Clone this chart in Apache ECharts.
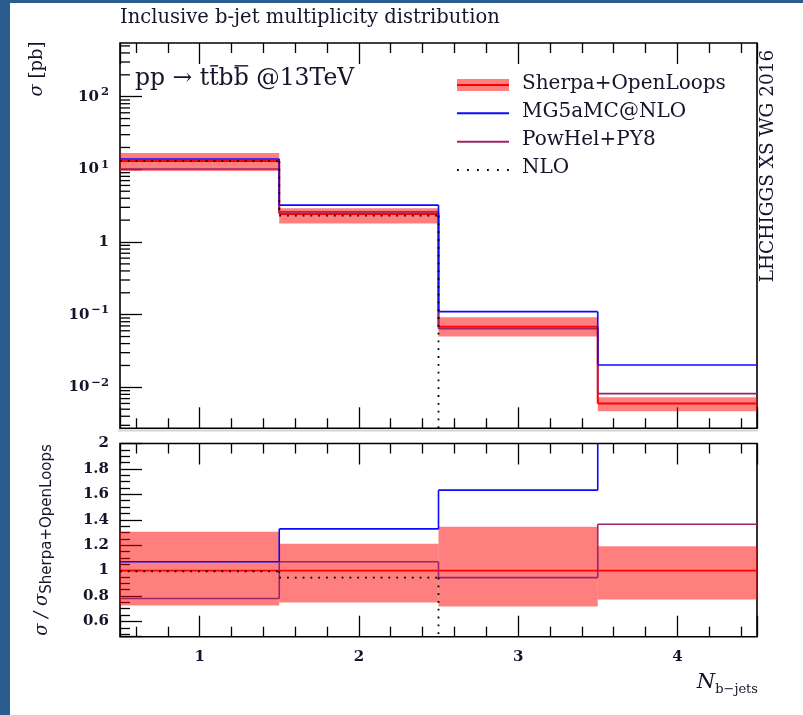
<!DOCTYPE html>
<html><head><meta charset="utf-8">
<script src="https://cdn.jsdelivr.net/npm/echarts@6/dist/echarts.min.js"></script>
<style>html,body{margin:0;padding:0;background:#fff}#c{width:803px;height:715px}</style>
</head><body><div id="c"></div>
<script>
// ---- data ----
const binEdges = [0.5, 1.5, 2.5, 3.5, 4.5];
const xTickValues = [1, 2, 3, 4];
const xTickLabels = ['1', '2', '3', '4'];
// upper panel: cross sections [pb]
const sherpa   = [13.0, 2.43, 0.068, 0.0060];
const sherpaLo = [9.5, 1.80, 0.050, 0.0047];
const sherpaHi = [16.8, 2.92, 0.092, 0.0073];
const mg5      = [13.9, 3.22, 0.110, 0.0203];
const powhel   = [10.1, 2.60, 0.064, 0.0082];
const nlo      = [13.0, 2.30, 0, 0];
// lower panel: ratio to Sherpa+OpenLoops
const ratioSherpa = [1, 1, 1, 1];
const ratioLo     = [0.725, 0.750, 0.718, 0.773];
const ratioHi     = [1.305, 1.212, 1.345, 1.192];
const ratioMg5    = [1.07, 1.328, 1.633, 3.38];
const ratioPowhel = [0.78, 1.07, 0.945, 1.365];
const ratioNlo    = [0.995, 0.945, 0, 0];
// tick labels
const logTickValues = [0.01, 0.1, 1, 10, 100];
const logTickLabels = ['10{sup|\u22122}', '10{sup|\u22121}', '1', '10{sup|1}', '10{sup|2}'];
const logMinorMantissa = [2, 3, 4, 5, 6, 7, 8, 9];
const logMinorDecades = [0.001, 0.01, 0.1, 1, 10, 100];
const ratioTickValues = [0.6, 0.8, 1.0, 1.2, 1.4, 1.6, 1.8, 2.0];
const ratioTickLabels = ['0.6', '0.8', '1', '1.2', '1.4', '1.6', '1.8', '2'];
const legendNames = ['Sherpa+OpenLoops', 'MG5aMC@NLO', 'PowHel+PY8', 'NLO'];
const processParts = ['pp \u2192 t', 't', 'b', 'b', ' @13TeV']; // 2nd and 4th parts carry an overbar

const Y_MIN = 0.00273, Y_MAX = 548;
const R_MIN = 0.48, R_MAX = 2;

const SERIF = '"DejaVu Serif", serif';
const RED = '#ff0000', BLUE = '#0a0aff', PURPLE = '#9c2468', BAND = 'rgba(255,0,0,0.5)';
const TXT = '#14142a';

const minorLog = [];
logMinorDecades.forEach(d => logMinorMantissa.forEach(m => {
  const v = +(d * m).toPrecision(3);
  if (v > Y_MIN && v < Y_MAX) minorLog.push(v);
}));

function lookup(vals, labels, v) {
  for (let i = 0; i < vals.length; i++) {
    if (Math.abs(vals[i] - v) <= 1e-6 * Math.max(1, Math.abs(v))) return labels[i];
  }
  return '';
}

function stepSeries(xi, yi, values, color, width, dash, z) {
  return {
    type: 'custom', xAxisIndex: xi, yAxisIndex: yi, clip: true, z: z, silent: true,
    encode: { x: [0, 1], y: 2 },
    data: values.map((v, i) => [binEdges[i], binEdges[i + 1], v]),
    renderItem: function (params, api) {
      const i = params.dataIndex, cs = params.coordSys;
      const below = cs.y + cs.height + 10;
      const yOf = v => (v > 0 ? api.coord([binEdges[0], v])[1] : below);
      const xa = api.coord([binEdges[i], 1])[0];
      const xb = api.coord([binEdges[i + 1], 1])[0];
      const y = yOf(values[i]);
      const st = { stroke: color, lineWidth: width, lineDash: dash || null, fill: null };
      const ch = [];
      if (values[i] > 0) ch.push({ type: 'line', shape: { x1: xa, y1: y, x2: xb, y2: y }, style: st });
      if (i > 0) ch.push({ type: 'line', shape: { x1: xa, y1: yOf(values[i - 1]), x2: xa, y2: y }, style: st });
      return { type: 'group', children: ch };
    }
  };
}

function bandSeries(xi, yi, lo, hi, z) {
  return {
    type: 'custom', xAxisIndex: xi, yAxisIndex: yi, clip: true, z: z, silent: true,
    encode: { x: [0, 1], y: [2, 3] },
    data: lo.map((v, i) => [binEdges[i], binEdges[i + 1], v, hi[i]]),
    renderItem: function (params, api) {
      const p1 = api.coord([api.value(0), api.value(3)]);
      const p2 = api.coord([api.value(1), api.value(2)]);
      return { type: 'rect', shape: { x: p1[0], y: p1[1], width: p2[0] - p1[0], height: p2[1] - p1[1] },
               style: { fill: BAND } };
    }
  };
}

const tickLine = { color: '#000', width: 1.3 };
function xAxisDef(gridIndex, position, showLabel) {
  return {
    type: 'value', gridIndex: gridIndex, position: position, min: 0.5, max: 4.5,
    minInterval: 1, maxInterval: 1,
    axisLine: { show: false }, splitLine: { show: false },
    axisTick: { show: true, inside: true, length: 21, lineStyle: tickLine },
    minorTick: { show: true, splitNumber: 5, length: 10, lineStyle: tickLine },
    axisLabel: {
      show: showLabel, showMinLabel: false, showMaxLabel: false, margin: 13,
      fontSize: 15, fontFamily: SERIF, fontWeight: 'bold', color: TXT,
      formatter: v => lookup(xTickValues, xTickLabels, v)
    }
  };
}

// process label with overbars placed from measured text widths
const PROC_FONT_SIZE = 23.5;
const PROC_FONT = PROC_FONT_SIZE + 'px "DejaVu Serif"';
const PROC_X = 135, PROC_Y = 79;
const mctx = document.createElement('canvas').getContext('2d');
mctx.font = PROC_FONT;
const procGraphics = [{ type: 'text', x: PROC_X, y: PROC_Y, style: { text: processParts.join(''), font: PROC_FONT, fill: TXT, align: 'left', verticalAlign: 'middle', textAlign: 'left', textVerticalAlign: 'middle' } }];
[1, 3].forEach(k => {
  const pre = mctx.measureText(processParts.slice(0, k).join('')).width;
  const w = mctx.measureText(processParts[k]).width;
  const yb = PROC_Y - 0.56 * PROC_FONT_SIZE;
  procGraphics.push({ type: 'line', shape: { x1: PROC_X + pre + 1, y1: yb, x2: PROC_X + pre + w - 0.5, y2: yb }, style: { stroke: TXT, lineWidth: 1.4 } });
});

const option = {
  animation: false,
  backgroundColor: '#fff',
  grid: [
    { left: 120, top: 43, width: 637, height: 385.3, show: true, borderColor: '#000', borderWidth: 1.6, backgroundColor: 'transparent', containLabel: false },
    { left: 120, top: 443.5, width: 637, height: 193.2, show: true, borderColor: '#000', borderWidth: 1.6, backgroundColor: 'transparent', containLabel: false }
  ],
  xAxis: [
    xAxisDef(0, 'bottom', false),
    xAxisDef(0, 'top', false),
    xAxisDef(1, 'bottom', true),
    xAxisDef(1, 'top', false)
  ],
  yAxis: [
    {
      type: 'log', logBase: 10, gridIndex: 0, min: Y_MIN, max: Y_MAX,
      axisLine: { show: false }, splitLine: { show: false },
      axisTick: { show: true, inside: true, length: 22, lineStyle: tickLine },
      minorTick: { show: false },
      axisLabel: {
        showMinLabel: false, showMaxLabel: false, margin: 11,
        fontSize: 15, fontFamily: SERIF, fontWeight: 'bold', color: TXT, lineHeight: 21,
        formatter: v => lookup(logTickValues, logTickLabels, v),
        rich: { sup: { fontSize: 11.5, lineHeight: 11, verticalAlign: 'top', padding: [0, 0, 0, 2], fontFamily: SERIF, fontWeight: 'bold', color: TXT } }
      }
    },
    {
      type: 'value', gridIndex: 1, min: R_MIN, max: R_MAX, minInterval: 0.2, maxInterval: 0.2,
      axisLine: { show: false }, splitLine: { show: false },
      axisTick: { show: true, inside: true, length: 22, lineStyle: tickLine },
      minorTick: { show: true, splitNumber: 4, length: 10, lineStyle: tickLine },
      axisLabel: {
        showMinLabel: false, showMaxLabel: true, margin: 11,
        fontSize: 15, fontFamily: SERIF, fontWeight: 'bold', color: TXT,
        formatter: v => lookup(ratioTickValues, ratioTickLabels, v)
      }
    }
  ],
  series: [
    {
      type: 'custom', xAxisIndex: 0, yAxisIndex: 0, silent: true, z: 10,
      encode: { x: 0, y: 1 },
      data: minorLog.map(v => [0.5, v]),
      renderItem: function (params, api) {
        const cs = params.coordSys;
        const y = api.coord([0.5, api.value(1)])[1];
        return { type: 'line', shape: { x1: cs.x, y1: y, x2: cs.x + 10, y2: y }, style: { stroke: '#000', lineWidth: 1.3 } };
      }
    },
    bandSeries(0, 0, sherpaLo, sherpaHi, 2),
    stepSeries(0, 0, sherpa, RED, 2, null, 3),
    stepSeries(0, 0, powhel, PURPLE, 1.6, null, 4),
    stepSeries(0, 0, mg5, BLUE, 1.6, null, 5),
    stepSeries(0, 0, nlo, '#000', 1.8, [1.8, 6], 6),
    bandSeries(2, 1, ratioLo, ratioHi, 2),
    stepSeries(2, 1, ratioSherpa, RED, 1.6, null, 3),
    stepSeries(2, 1, ratioPowhel, PURPLE, 1.6, null, 4),
    stepSeries(2, 1, ratioMg5, BLUE, 1.6, null, 5),
    stepSeries(2, 1, ratioNlo, '#000', 1.8, [1.8, 6], 6)
  ],
  graphic: [
    { type: 'rect', shape: { x: 0, y: 0, width: 10, height: 715 }, style: { fill: '#2b5c8f' }, z: 100 },
    { type: 'rect', shape: { x: 0, y: 0, width: 803, height: 3 }, style: { fill: '#2b5c8f' }, z: 100 },
    { type: 'line', shape: { x1: 118, y1: 430.5, x2: 758, y2: 430.5 }, style: { stroke: '#d4d4d4', lineWidth: 2 } },
    { type: 'text', x: 120, y: 18, style: { text: 'Inclusive b-jet multiplicity distribution', font: '19.5px ' + SERIF, fill: TXT, align: 'left', verticalAlign: 'middle', textAlign: 'left', textVerticalAlign: 'middle' } }
  ].concat(procGraphics).concat([
    { type: 'text', x: 37, y: 69, rotation: Math.PI / 2, style: {
        text: '{i|\u03c3} [pb]', font: '18px ' + SERIF, fill: TXT, align: 'center', verticalAlign: 'middle', textAlign: 'center', textVerticalAlign: 'middle',
        rich: { i: { fontSize: 18, fontFamily: SERIF, fontStyle: 'italic', fill: TXT } } } },
    { type: 'text', x: 768, y: 166, rotation: Math.PI / 2, style: { text: 'LHCHIGGS XS WG 2016', font: '18.5px ' + SERIF, fill: TXT, align: 'center', verticalAlign: 'middle', textAlign: 'center', textVerticalAlign: 'middle' } },
    { type: 'text', x: 44, y: 540, rotation: Math.PI / 2, style: {
        text: '{m|\u03c3 / \u03c3}{s|Sherpa+OpenLoops}', fill: TXT, align: 'center', verticalAlign: 'middle', textAlign: 'center', textVerticalAlign: 'middle',
        rich: { m: { fontSize: 18, fontFamily: SERIF, fontStyle: 'italic', lineHeight: 22, verticalAlign: 'top', fill: TXT },
                s: { fontSize: 15, fontFamily: '"DejaVu Sans", sans-serif', lineHeight: 15, verticalAlign: 'bottom', fill: TXT } } } },
    { type: 'text', x: 758, y: 684, style: {
        text: '{n|N}{s|b\u2212jets}', fill: TXT, align: 'right', verticalAlign: 'middle', textAlign: 'right', textVerticalAlign: 'middle',
        rich: { n: { fontSize: 21, fontFamily: SERIF, fontStyle: 'italic', lineHeight: 24, verticalAlign: 'top', fill: TXT },
                s: { fontSize: 13, fontFamily: SERIF, lineHeight: 13, verticalAlign: 'bottom', fill: TXT } } } },
    { type: 'rect', shape: { x: 457, y: 79, width: 52, height: 12 }, style: { fill: BAND } },
    { type: 'line', shape: { x1: 457, y1: 85, x2: 509, y2: 85 }, style: { stroke: RED, lineWidth: 2 } },
    { type: 'line', shape: { x1: 457, y1: 113.3, x2: 509, y2: 113.3 }, style: { stroke: BLUE, lineWidth: 2 } },
    { type: 'line', shape: { x1: 457, y1: 141.7, x2: 509, y2: 141.7 }, style: { stroke: PURPLE, lineWidth: 2 } },
    { type: 'line', shape: { x1: 457, y1: 170, x2: 509, y2: 170 }, style: { stroke: '#000', lineWidth: 1.8, lineDash: [1.8, 8.2] } },
    { type: 'text', x: 522, y: 84, style: { text: legendNames[0], font: '20px ' + SERIF, fill: TXT, align: 'left', verticalAlign: 'middle', textAlign: 'left', textVerticalAlign: 'middle' } },
    { type: 'text', x: 522, y: 112, style: { text: legendNames[1], font: '20px ' + SERIF, fill: TXT, align: 'left', verticalAlign: 'middle', textAlign: 'left', textVerticalAlign: 'middle' } },
    { type: 'text', x: 522, y: 140, style: { text: legendNames[2], font: '20px ' + SERIF, fill: TXT, align: 'left', verticalAlign: 'middle', textAlign: 'left', textVerticalAlign: 'middle' } },
    { type: 'text', x: 522, y: 168, style: { text: legendNames[3], font: '20px ' + SERIF, fill: TXT, align: 'left', verticalAlign: 'middle', textAlign: 'left', textVerticalAlign: 'middle' } }
  ])
};
const chart = echarts.init(document.getElementById('c'), null, { renderer: 'canvas' });
chart.setOption(option);
</script></body></html>
